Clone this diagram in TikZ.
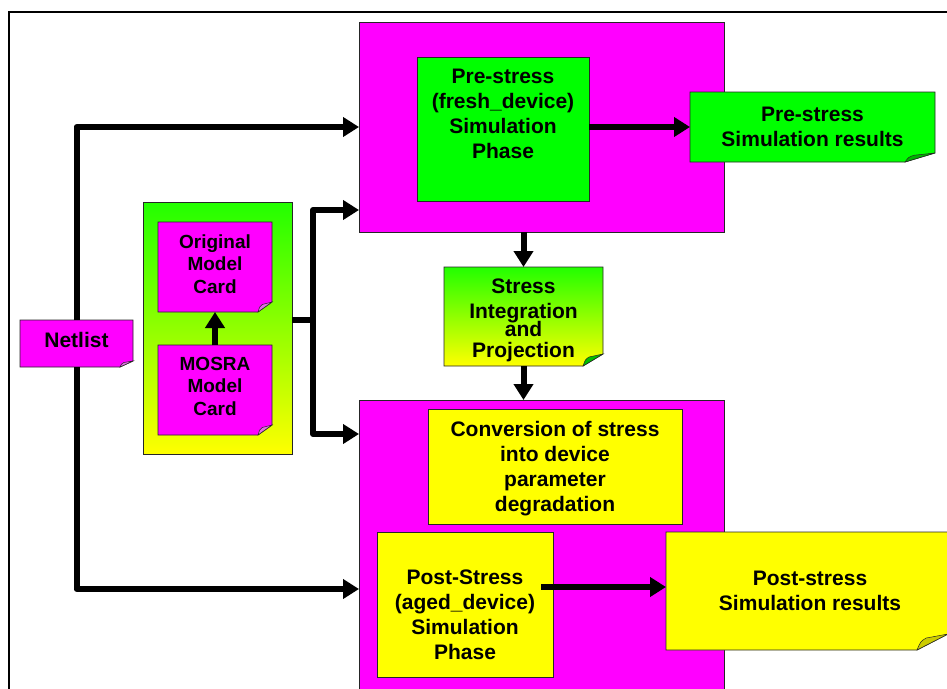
\documentclass[tikz,border=0pt]{standalone}
\usepackage{fontspec}
\setmainfont{Liberation Sans}
\usetikzlibrary{arrows.meta,calc}
\definecolor{mag}{RGB}{255,0,255}
\definecolor{grn}{RGB}{0,255,0}
\definecolor{grn2}{RGB}{34,255,0}
\definecolor{ylw}{RGB}{255,255,0}
\definecolor{magfold}{RGB}{225,110,225}
\newcommand\foldnote[5]{%
  \path[#4,draw=black!85,line width=0.8pt] (#1.north west) -- (#1.north east) -- ([yshift=#3]#1.south east) -- ([xshift=-#2]#1.south east) -- (#1.south west) -- cycle;
  \filldraw[fill=#5,draw=black!85,line width=0.5pt] ([yshift=#3]#1.south east) -- ([xshift={-0.7*#2},yshift={0.75*#3}]#1.south east) .. controls ([xshift={-0.88*#2},yshift={0.55*#3}]#1.south east) .. ([xshift=-#2]#1.south east) -- cycle;
}
\begin{document}
\begin{tikzpicture}[x=1pt,y=-1pt,
  box/.style={draw=black!85,line width=0.8pt,inner sep=0pt,outer sep=0pt,rectangle},
  shell/.style={inner sep=0pt,outer sep=0pt,rectangle,draw=none,fill=none},
  txt/.style={font=\bfseries\fontsize{21}{25}\selectfont,align=center,inner sep=0pt},
  stxt/.style={font=\bfseries\fontsize{19}{22.5}\selectfont,align=center,inner sep=0pt},
  conn/.style={line width=6pt,line join=round},
  arr/.style={conn,-{Triangle[length=16pt,width=19pt]}}]
\useasboundingbox (0,0) rectangle (947,688);
\fill[white] (0,0) rectangle (947,688);
\draw[line width=1.5pt] (9,700) -- (9,12) -- (960,12);

% top shell
\node[box,fill=mag,minimum width=365pt,minimum height=210pt] (pre) at (541.5,127) {};
\node[box,fill=grn,minimum width=172pt,minimum height=144pt] (prebox) at (503,129) {};
\node[txt] (preboxT) at (503,114) {Pre-stress\\(fresh\_device)\\Simulation\\Phase};
\node[shell,minimum width=245pt,minimum height=70pt] (preres) at (812.5,127) {};
\foldnote{preres}{30pt}{9pt}{fill=grn}{grn!70!black}
\node[txt] (preresT) at (812.5,127) {Pre-stress\\Simulation results};

% netlist
\node[shell,minimum width=113pt,minimum height=47pt] (netlist) at (76.5,343.5) {};
\foldnote{netlist}{13pt}{6pt}{fill=mag}{magfold}
\node[txt] (netlistT) at (76.5,340) {Netlist};

% model cards
\node[box,top color=grn2,bottom color=ylw,minimum width=149pt,minimum height=252pt] (cardbg) at (217.5,328) {};
\node[shell,minimum width=114pt,minimum height=90pt] (orig) at (215,267) {};
\foldnote{orig}{14pt}{10pt}{fill=mag}{magfold}
\node[stxt] (origT) at (215,264) {Original\\Model\\Card};
\node[shell,minimum width=114pt,minimum height=90pt] (mosra) at (215,390) {};
\foldnote{mosra}{14pt}{10pt}{fill=mag}{magfold}
\node[stxt] (mosraT) at (215,386) {MOSRA\\Model\\Card};

% stress integration
\node[shell,minimum width=159pt,minimum height=99pt] (stress) at (523.5,316.5) {};
\foldnote{stress}{20pt}{12pt}{top color=grn2,bottom color=ylw}{grn!75!black}
\node[txt] (stressT) at (523.5,320) {Stress\\Integration\\[-7pt]and\\[-4pt]Projection};

% bottom shell
\node[box,fill=mag,minimum width=365pt,minimum height=310pt] (post) at (541.5,555) {};
\node[box,fill=ylw,minimum width=254pt,minimum height=115pt] (conv) at (555,466.5) {};
\node[txt] (convT) at (555,469) {Conversion of stress\\into device\\parameter\\degradation};
\node[box,fill=ylw,minimum width=176pt,minimum height=145pt] (postbox) at (465,604.5) {};
\node[txt] (postboxT) at (465,615) {Post-Stress\\(aged\_device)\\Simulation\\Phase};
\node[shell,minimum width=282pt,minimum height=118pt] (postres) at (807,591) {};
\foldnote{postres}{31pt}{16pt}{fill=ylw}{ylw!80!black}
\node[txt] (postresT) at (810,591) {Post-stress\\Simulation results};

% connectors
\draw[arr] (netlist.north) |- (pre.west);
\draw[arr] (netlist.south) |- ([yshift=-34pt]post.west);
\coordinate (bus) at (313,320);
\draw[conn] (cardbg.east |- bus) -- (bus);
\draw[arr] (bus) |- ([yshift=-83pt]pre.west);
\draw[arr] (bus) |- ([yshift=121pt]post.west);
\draw[arr] (mosra.north) -- (orig.south);
\draw[arr] (prebox.east |- preres.west) -- (preres.west);
\draw[arr] (pre.south -| stress.north) -- (stress.north);
\draw[arr] (stress.south) -- (post.north -| stress.south);
\draw[arr] ([xshift=-12pt,yshift=4pt]postbox.east |- postres.west) -- ([yshift=4pt]postres.west);
\end{tikzpicture}
\end{document}
